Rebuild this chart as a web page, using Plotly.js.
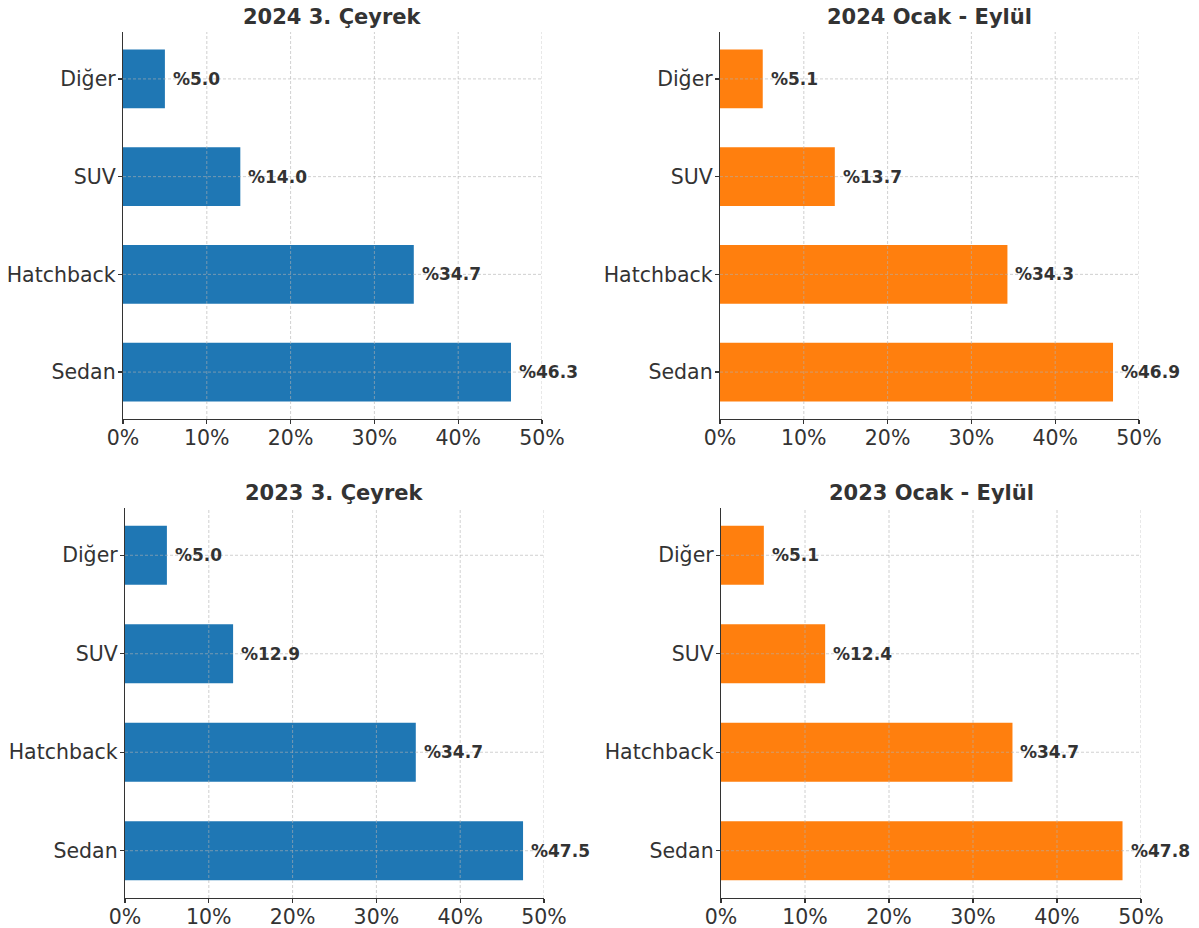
<!DOCTYPE html>
<html>
<head>
<meta charset="utf-8">
<script src="https://cdn.plot.ly/plotly-3.0.1.min.js"></script>
<style>html,body{margin:0;padding:0;background:#fff;}#chart{width:1199px;height:928px;}</style>
</head>
<body>
<div id="chart"></div>
<script>
// Data
const categories = ['Sedan', 'Hatchback', 'SUV', 'Diğer'];
const titles = ['2024 3. Çeyrek', '2024 Ocak - Eylül', '2023 3. Çeyrek', '2023 Ocak - Eylül'];
const q3_2024 = [46.3, 34.7, 14.0, 5.0];
const jansep_2024 = [46.9, 34.3, 13.7, 5.1];
const q3_2023 = [47.5, 34.7, 12.9, 5.0];
const jansep_2023 = [47.8, 34.7, 12.4, 5.1];
const seriesList = [q3_2024, jansep_2024, q3_2023, jansep_2023];
const colors = ['#1f77b4', '#ff7f0e', '#1f77b4', '#ff7f0e'];
const xTicks = [0, 10, 20, 30, 40, 50];
const xTickText = ['0%', '10%', '20%', '30%', '40%', '50%'];

// Layout geometry (pixels)
const W = 1199, H = 928;
const boxes = [
  {x0: 123, x1: 542, y0: 32, y1: 419},
  {x0: 720, x1: 1139, y0: 32, y1: 419},
  {x0: 125, x1: 544, y0: 508, y1: 898},
  {x0: 721, x1: 1141, y0: 508, y1: 898}
];
const FONT = 'DejaVu Sans, Verdana, sans-serif';
const TXT = '#333333';

const traces = [];
const layout = {
  width: W, height: H,
  margin: {l: 0, r: 0, t: 0, b: 0},
  paper_bgcolor: '#ffffff', plot_bgcolor: '#ffffff',
  showlegend: false,
  font: {family: FONT, color: TXT},
  annotations: [], shapes: []
};

seriesList.forEach((vals, i) => {
  const n = i + 1;
  const xa = n === 1 ? 'x' : 'x' + n;
  const ya = n === 1 ? 'y' : 'y' + n;
  const xk = n === 1 ? 'xaxis' : 'xaxis' + n;
  const yk = n === 1 ? 'yaxis' : 'yaxis' + n;
  const b = boxes[i];
  traces.push({
    type: 'bar', orientation: 'h',
    x: vals, y: categories,
    xaxis: xa, yaxis: ya,
    width: 0.6,
    marker: {color: colors[i], line: {width: 0}},
    hoverinfo: 'x+y'
  });
  layout[xk] = {
    domain: [b.x0 / W, b.x1 / W],
    anchor: ya,
    range: [0, 50],
    tickvals: xTicks, ticktext: xTickText,
    showgrid: false, zeroline: false,
    showline: true, linecolor: '#333333', linewidth: 1.2,
    ticks: 'outside', ticklen: 4, tickwidth: 1.2, tickcolor: '#333333',
    ticklabelstandoff: -4,
    tickfont: {size: 20.5, family: FONT, color: TXT},
    fixedrange: true
  };
  layout[yk] = {
    domain: [1 - b.y1 / H, 1 - b.y0 / H],
    anchor: xa,
    type: 'category',
    range: [-0.48, 3.48],
    showgrid: false, zeroline: false,
    showline: true, linecolor: '#333333', linewidth: 1.2,
    ticks: 'outside', ticklen: 4, tickwidth: 1.2, tickcolor: '#333333',
    ticklabelstandoff: -2,
    tickfont: {size: 20.5, family: FONT, color: TXT},
    fixedrange: true
  };
  // dashed grid lines drawn above bars (like matplotlib default)
  xTicks.slice(1).forEach(t => {
    layout.shapes.push({
      type: 'line', layer: 'above',
      xref: xa, yref: ya + ' domain',
      x0: t, x1: t, y0: 0, y1: 1,
      line: {color: 'rgba(176,176,176,0.6)', width: 1, dash: '3px,2px'}
    });
  });
  categories.forEach(c => {
    layout.shapes.push({
      type: 'line', layer: 'above',
      xref: xa + ' domain', yref: ya,
      x0: 0, x1: 1, y0: c, y1: c,
      line: {color: 'rgba(176,176,176,0.6)', width: 1, dash: '3px,2px'}
    });
  });
  // value labels
  vals.forEach((v, k) => {
    layout.annotations.push({
      xref: xa, yref: ya, x: v, y: categories[k],
      text: '<b>%' + v.toFixed(1) + '</b>',
      showarrow: false, xanchor: 'left', yanchor: 'middle', xshift: 6,
      font: {size: 17, family: FONT, color: TXT}
    });
  });
  // subplot title
  layout.annotations.push({
    xref: xa + ' domain', yref: 'paper',
    x: 0.5, y: 1 - (b.y0 - 15) / H,
    text: '<b>' + titles[i] + '</b>',
    showarrow: false, xanchor: 'center', yanchor: 'middle',
    font: {size: 21, family: FONT, color: TXT}
  });
});

Plotly.newPlot('chart', traces, layout, {displayModeBar: false, staticPlot: true});
</script>
</body>
</html>
